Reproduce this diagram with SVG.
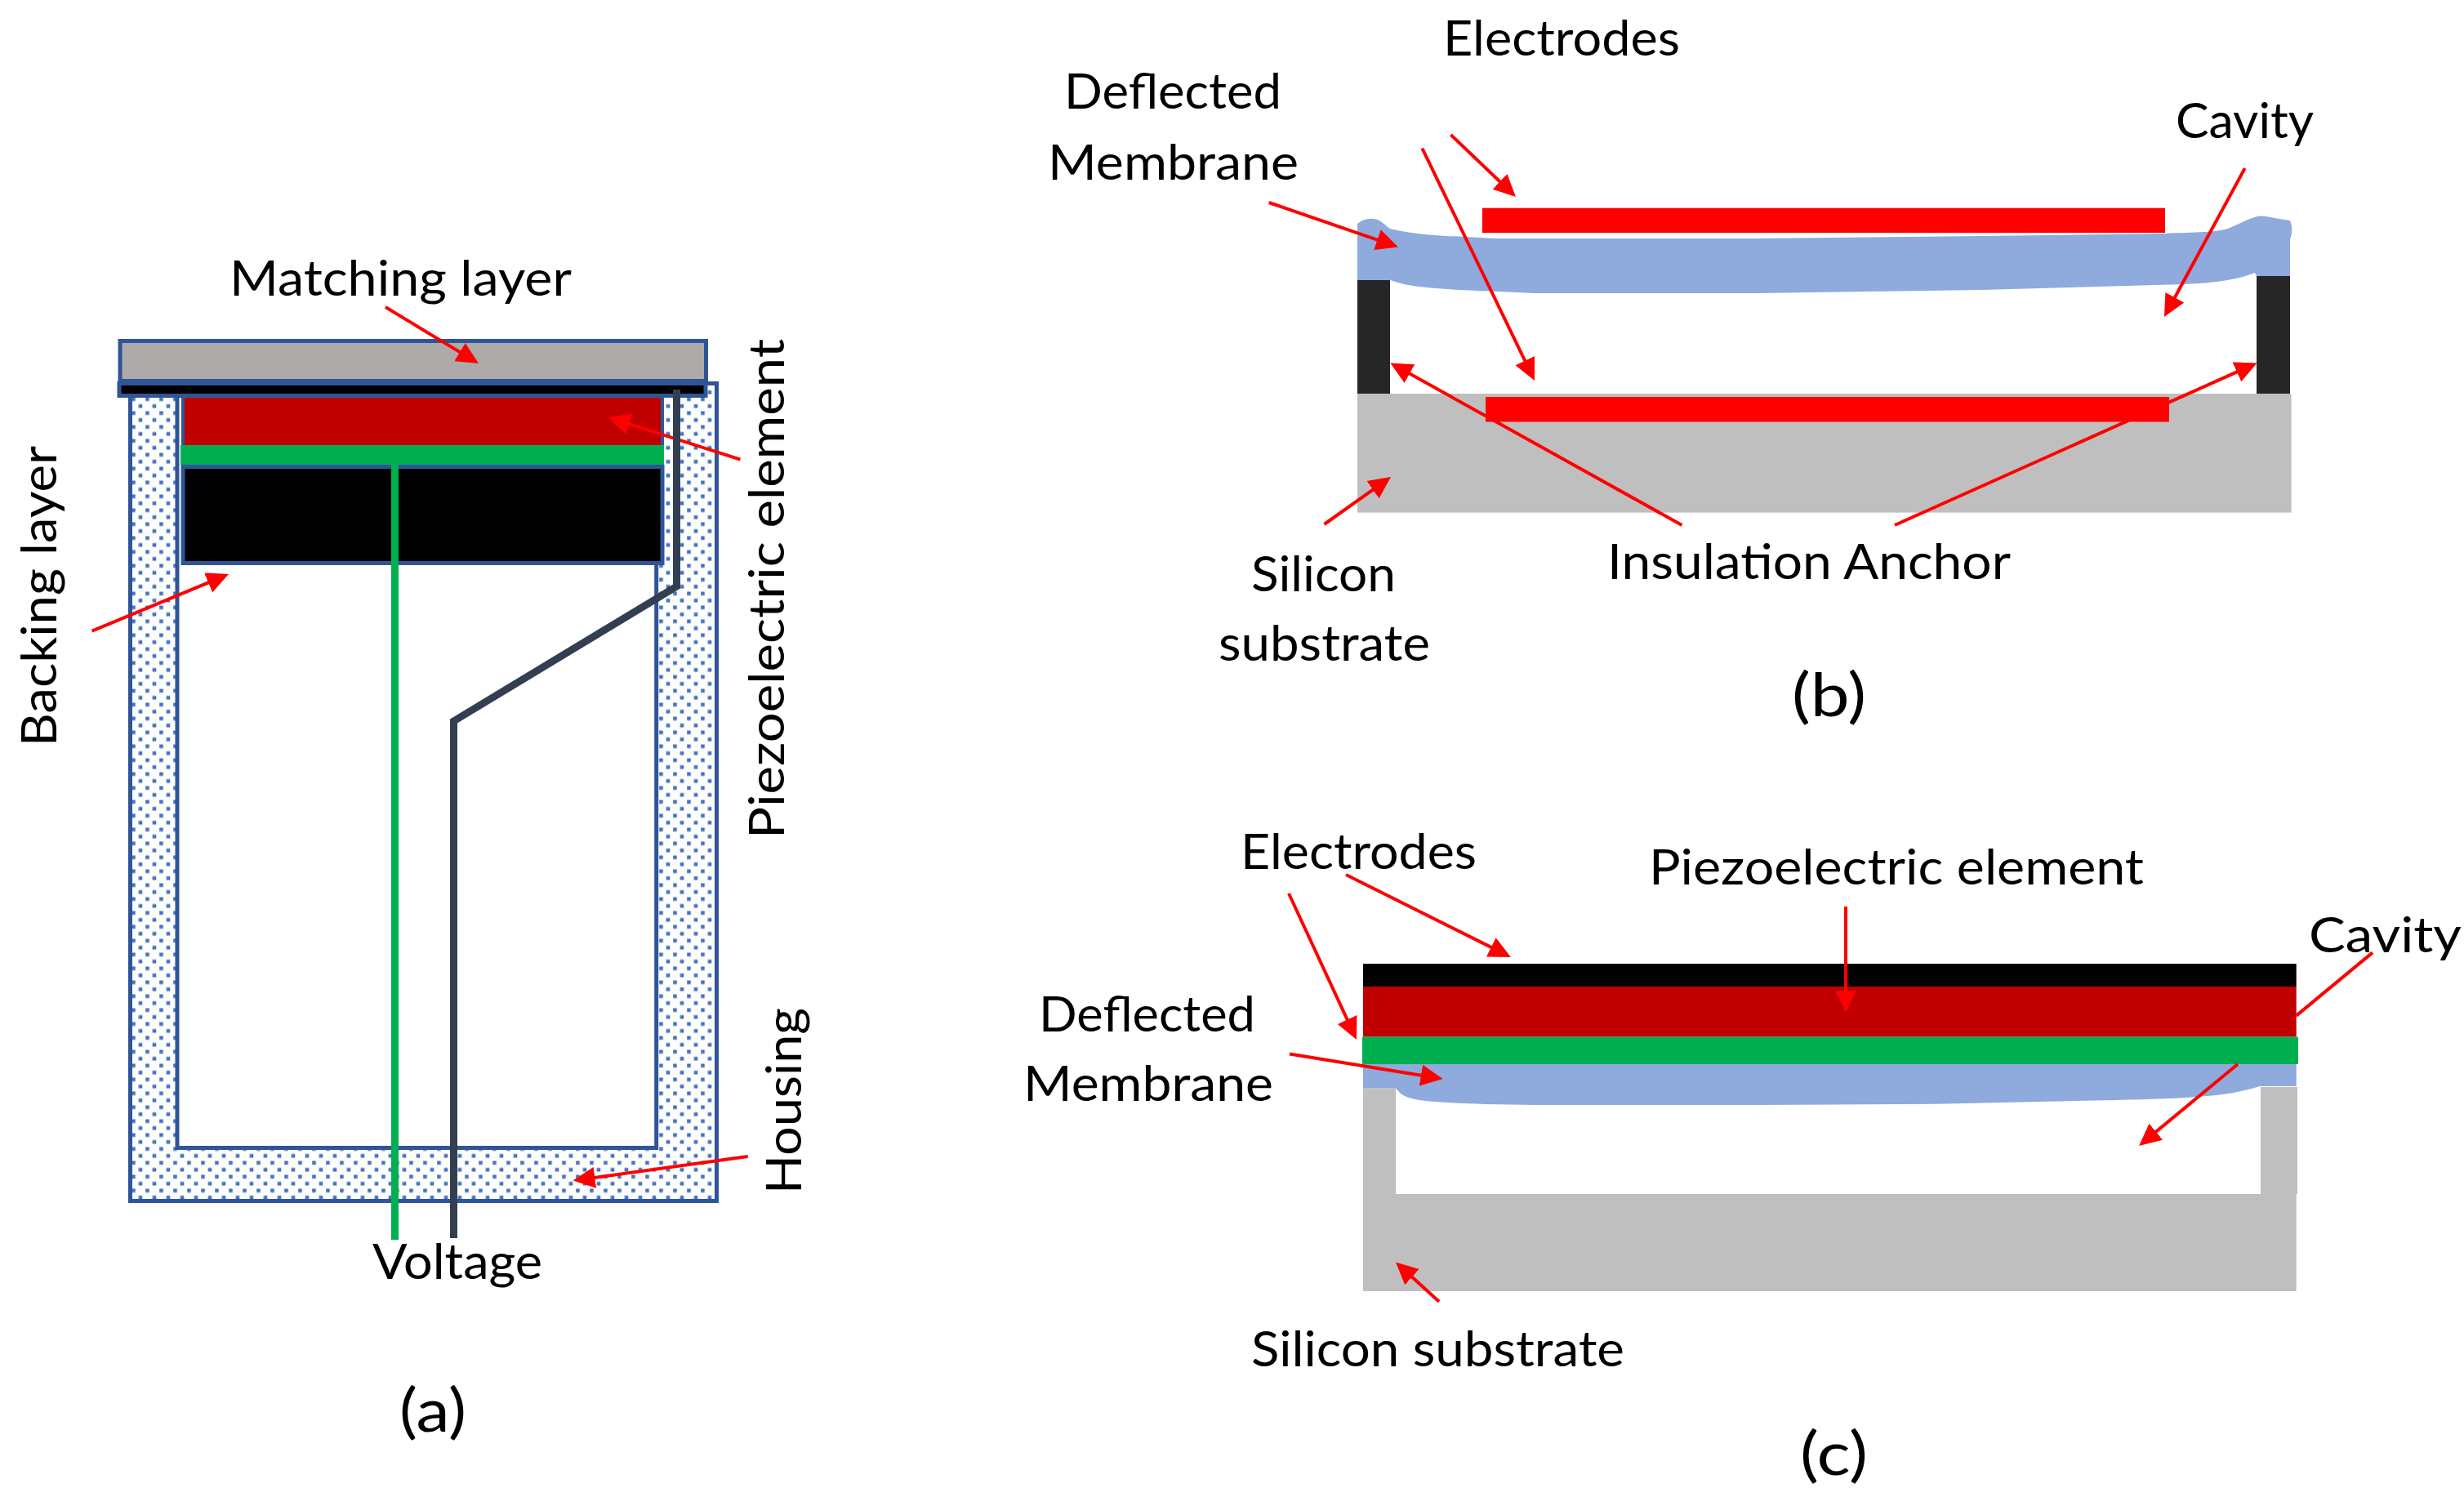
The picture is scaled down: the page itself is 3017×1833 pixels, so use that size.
<svg xmlns="http://www.w3.org/2000/svg" width="3017" height="1833" viewBox="0 0 3017 1833">
<style>
text{font-family:"Lato","Carlito","Liberation Sans",sans-serif;font-size:60px;fill:#000}
.cap{font-size:74px}
.blue{stroke:#2F5597;stroke-width:5}
.si{fill:#BFBFBF}
.mem{fill:#8FAADC}
.anchor{fill:#262626}
.el{fill:#FF0000}
.pz{fill:#C00000}
.gr{fill:#00B050}
.k{fill:#000}
.arrow{stroke:#FF0000;stroke-width:4;fill:none;marker-end:url(#ah)}
.seg{stroke:#FF0000;stroke-width:4;fill:none}
.wire{fill:none;stroke-width:9;stroke-linejoin:miter}
</style>
<defs>
<pattern id="dots" patternUnits="userSpaceOnUse" x="178.2" y="486.5" width="17" height="17">
<rect width="17" height="17" fill="#FDFEFC"/>
<rect x="0" y="0" width="4.6" height="4.6" fill="#4472C4"/>
<rect x="8.5" y="8.5" width="4.6" height="4.6" fill="#4472C4"/>
</pattern>
<marker id="ah" markerUnits="userSpaceOnUse" markerWidth="28" markerHeight="28" viewBox="0 0 28 28" refX="19" refY="14" orient="auto">
<path d="M0 1L27 14L0 27z" fill="#FF0000"/>
</marker>
</defs>
<rect width="3017" height="1833" fill="#FFFFFF"/>

<g id="panel-a">
<g id="a-housing">
<rect x="159.5" y="469.5" width="718" height="1001" fill="url(#dots)" class="blue"/>
<rect x="217" y="460" width="586.7" height="945.5" fill="#FFFFFF" class="blue"/>
</g>
<g id="a-piezo"><rect x="224" y="480" width="587" height="68" class="pz" stroke="#2F5597" stroke-width="4"/></g>
<g id="a-backing"><rect x="224" y="571.5" width="587" height="118" class="k blue"/></g>
<g id="a-electrode-lower"><rect x="221" y="545" width="592" height="24" class="gr"/></g>
<g id="a-matching"><rect x="147" y="417.5" width="717.5" height="49" fill="#AEAAAA" class="blue"/></g>
<g id="a-electrode-upper"><rect x="146" y="469.5" width="718" height="15" class="k blue"/></g>
</g>

<g id="panel-b">
<g id="b-substrate"><rect x="1662" y="482" width="1143.6" height="145.6" class="si"/></g>
<g id="b-anchor-left"><rect x="1662" y="343" width="40" height="139" class="anchor"/></g>
<g id="b-anchor-right"><rect x="2763" y="338" width="41" height="144" class="anchor"/></g>
<g id="b-membrane"><path class="mem" d="M1662 274C1668 269 1675 267 1681 268C1690 268 1696 276 1702 280C1730 287 1765 289 1795 290L1830 292H2150L2426 289L2647 286C2690 284 2715 285 2730 279C2745 273 2752 268 2761 266C2768 263 2775 265 2785 267L2804 270C2807 278 2807 284 2804 293V338H2763L2761 334C2750 338 2740 341 2730 342.5C2710 346 2695 347 2675 348L2426 355L2150 359H1880L1824 356.6C1790 355 1760 354 1738 351C1720 349 1712 346 1702 343H1662Z"/></g>
<g id="b-electrode-top"><rect x="1815" y="254.7" width="836" height="30.3" class="el"/></g>
<g id="b-electrode-bottom"><rect x="1819" y="486" width="837" height="30.5" class="el"/></g>
</g>

<g id="panel-c">
<g id="c-substrate"><path class="si" d="M1669 1332.5H1709V1462H2768V1331H2813V1462H2811.7V1581H1669Z"/></g>
<g id="c-membrane"><path class="mem" d="M1669 1303H2811.7V1330H2767C2745 1337 2725 1340 2703 1342C2670 1345 2630 1346 2592 1347L2371 1351.7L2150 1353H1881L1818 1352C1790 1351 1760 1350 1738 1347C1725 1345 1718 1342 1714 1338L1709 1332.5H1669Z"/></g>
<g id="c-piezo"><rect x="1669" y="1208" width="1142.7" height="61.6" class="pz"/></g>
<g id="c-electrode-top"><rect x="1669" y="1180" width="1142.7" height="28" class="k"/></g>
<g id="c-electrode-bottom"><rect x="1668" y="1269.6" width="1146" height="33.4" class="gr"/></g>
</g>

<g id="connectors">
<line class="arrow" x1="472" y1="376" x2="579.2" y2="440.9"/>
<line class="arrow" x1="906.5" y1="562.7" x2="752.3" y2="513.4"/>
<line class="arrow" x1="112.6" y1="772.7" x2="272.6" y2="706.1"/>
<line class="arrow" x1="915.7" y1="1416" x2="709.5" y2="1444.5"/>
<line class="arrow" x1="1776.4" y1="165" x2="1850.2" y2="235.5"/>
<line class="arrow" x1="1741.4" y1="181.6" x2="1875.5" y2="458.8"/>
<line class="arrow" x1="1553.7" y1="248" x2="1704.4" y2="299.8"/>
<line class="arrow" x1="1621.4" y1="642" x2="1696.5" y2="588.6"/>
<line class="arrow" x1="2059.4" y1="643" x2="1709.4" y2="448.3"/>
<line class="arrow" x1="2320" y1="643" x2="2756.3" y2="447.7"/>
<line class="arrow" x1="2748.7" y1="206" x2="2653.8" y2="381"/>
<line class="arrow" x1="1648" y1="1071" x2="1842.8" y2="1168.4"/>
<line class="arrow" x1="1578" y1="1094" x2="1657.6" y2="1265.7"/>
<line class="arrow" x1="1579" y1="1290.5" x2="1758.7" y2="1319.7"/>
<line class="arrow" x1="1762" y1="1593.7" x2="1714.9" y2="1550.8"/>
<line class="arrow" x1="2260" y1="1110" x2="2260" y2="1231.6"/>
<line class="seg" x1="2905" y1="1166.4" x2="2811.7" y2="1243.6"/>
<line class="arrow" x1="2740" y1="1303" x2="2625.2" y2="1397.9"/>
<path class="wire" stroke="#00B050" d="M483.5 569V1518"/>
<path class="wire" stroke="#333F50" d="M828.5 477V718L555.5 883V1516"/>
</g>

<g id="labels">
<text x="281" y="362" textLength="419" lengthAdjust="spacingAndGlyphs">Matching layer</text>
<text transform="translate(960 1027) rotate(-90)" textLength="612" lengthAdjust="spacingAndGlyphs">Piezoelectric element</text>
<text transform="translate(69 914) rotate(-90)" textLength="368" lengthAdjust="spacingAndGlyphs">Backing layer</text>
<text transform="translate(981 1462) rotate(-90)" textLength="228" lengthAdjust="spacingAndGlyphs">Housing</text>
<text x="456" y="1566" textLength="208" lengthAdjust="spacingAndGlyphs">Voltage</text>
<text class="cap" x="489" y="1753" textLength="82" lengthAdjust="spacingAndGlyphs">(a)</text>
<text x="1767" y="68" textLength="290" lengthAdjust="spacingAndGlyphs">Electrodes</text>
<text x="1303" y="133" textLength="266" lengthAdjust="spacingAndGlyphs">Deflected</text>
<text x="1283" y="219.5" textLength="307" lengthAdjust="spacingAndGlyphs">Membrane</text>
<text x="2664" y="169" textLength="169" lengthAdjust="spacingAndGlyphs">Cavity</text>
<text x="1532" y="723.6" textLength="177" lengthAdjust="spacingAndGlyphs">Silicon</text>
<text x="1492" y="808.7" textLength="259" lengthAdjust="spacingAndGlyphs">substrate</text>
<text x="1968" y="709" textLength="494" lengthAdjust="spacingAndGlyphs">Insulation Anchor</text>
<text class="cap" x="2194" y="877" textLength="91" lengthAdjust="spacingAndGlyphs">(b)</text>
<text x="1519" y="1063.8" textLength="289" lengthAdjust="spacingAndGlyphs">Electrodes</text>
<text x="2019" y="1082.5" textLength="606" lengthAdjust="spacingAndGlyphs">Piezoelectric element</text>
<text x="2827" y="1166.4" textLength="187" lengthAdjust="spacingAndGlyphs">Cavity</text>
<text x="1272" y="1263" textLength="265" lengthAdjust="spacingAndGlyphs">Deflected</text>
<text x="1253" y="1348" textLength="306" lengthAdjust="spacingAndGlyphs">Membrane</text>
<text x="1532" y="1672.7" textLength="457" lengthAdjust="spacingAndGlyphs">Silicon substrate</text>
<text class="cap" x="2204" y="1806" textLength="83" lengthAdjust="spacingAndGlyphs">(c)</text>
</g>
</svg>
